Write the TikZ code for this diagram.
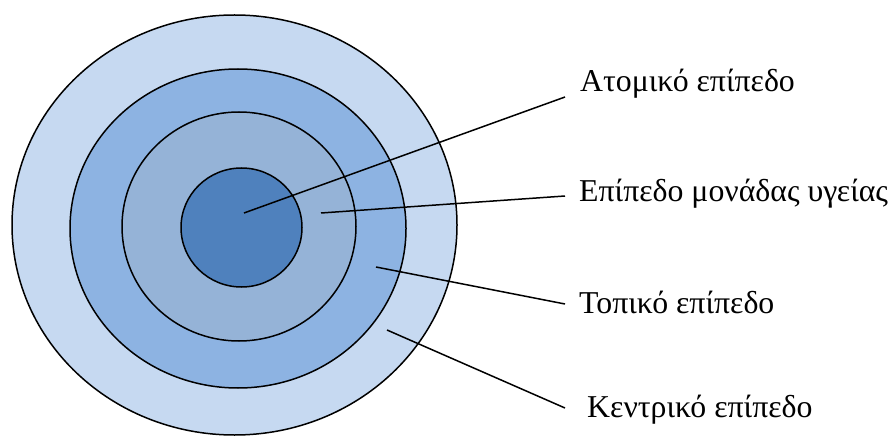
\documentclass[tikz,border=0pt]{standalone}
\usepackage{fontspec}
\setmainfont{Liberation Serif}
\definecolor{ringA}{HTML}{C6D9F1}
\definecolor{ringB}{HTML}{8DB3E2}
\definecolor{ringC}{HTML}{95B3D7}
\definecolor{ringD}{HTML}{4F81BD}
\begin{document}
\begin{tikzpicture}[x=1pt,y=-1pt,
  ring/.style={draw=black,line width=1.5pt},
  conn/.style={draw=black,line width=1.5pt},
  lbl/.style={anchor=base west,inner sep=0pt,font=\fontsize{31.8}{38}\selectfont}]
\useasboundingbox (0,0) rectangle (893,438);
\path[ring,fill=ringA] (234.5,225) ellipse [x radius=222.5,y radius=210];
\path[ring,fill=ringB] (238,228.5) ellipse [x radius=168,y radius=159.5];
\path[ring,fill=ringC] (239,226.5) ellipse [x radius=117,y radius=114.5];
\path[ring,fill=ringD] (241.5,227.5) ellipse [x radius=60.5,y radius=59.5];
\node[lbl] (t1) at (580,92) {Ατομικό επίπεδο};
\node[lbl] (t2) at (579,201.5) {Επίπεδο μονάδας υγείας};
\node[lbl] (t3) at (579,313) {Τοπικό επίπεδο};
\node[lbl] (t4) at (587,417) {Κεντρικό επίπεδο};
\coordinate (s1) at (244,213); \coordinate (e1) at (565,97);
\coordinate (s2) at (321,213); \coordinate (e2) at (565,196);
\coordinate (s3) at (376,267); \coordinate (e3) at (565,304);
\coordinate (s4) at (387,330); \coordinate (e4) at (565,408);
\draw[conn] (s1) -- (e1);
\draw[conn] (s2) -- (e2);
\draw[conn] (s3) -- (e3);
\draw[conn] (s4) -- (e4);
\end{tikzpicture}
\end{document}
